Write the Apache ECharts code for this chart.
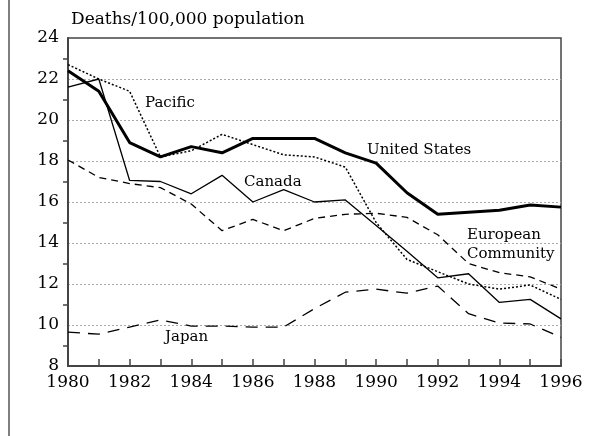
<!DOCTYPE html>
<html>
<head>
<meta charset="utf-8">
<script src="https://cdn.jsdelivr.net/npm/echarts@6/dist/echarts.min.js"></script>
<style>
  html, body { margin: 0; padding: 0; background: #fff; }
  #chart { width: 607px; height: 436px; }
</style>
</head>
<body>
<div id="chart"></div>
<script>
// years on the x axis
const years = [1980, 1981, 1982, 1983, 1984, 1985, 1986, 1987, 1988, 1989, 1990, 1991, 1992, 1993, 1994, 1995, 1996]

// deaths per 100,000 population
const unitedStates = [22.4, 21.4, 18.9, 18.2, 18.7, 18.4, 19.1, 19.1, 19.1, 18.4, 17.9, 16.45, 15.4, 15.5, 15.6, 15.85, 15.75]
const pacific = [22.7, 22.0, 21.4, 18.2, 18.5, 19.3, 18.8, 18.3, 18.2, 17.7, 15.0, 13.2, 12.6, 12.0, 11.75, 11.95, 11.25]
const canada = [21.6, 22.0, 17.05, 17.0, 16.4, 17.3, 16.0, 16.6, 16.0, 16.1, 14.85, 13.6, 12.3, 12.5, 11.1, 11.25, 10.3]
const europeanCommunity = [18.05, 17.2, 16.9, 16.7, 15.9, 14.6, 15.15, 14.6, 15.2, 15.4, 15.45, 15.25, 14.4, 13.0, 12.55, 12.35, 11.75]
const japan = [9.65, 9.55, 9.9, 10.25, 9.95, 9.95, 9.9, 9.9, 10.8, 11.6, 11.75, 11.55, 11.9, 10.55, 10.1, 10.05, 9.4]

const FONT = 'DejaVu Serif'
const AXIS_COLOR = '#444'

function pairs(values) {
  return years.map((y, i) => [y, values[i]])
}

function initSeries(name, values, width, type) {
  return {
    name,
    type: 'line',
    data: pairs(values),
    showSymbol: false,
    symbol: 'none',
    silent: true,
    lineStyle: {
      color: '#000',
      width,
      type
    }
  }
}

const chart = echarts.init(document.getElementById('chart'))

const option = {
  animation: false,
  title: {
    text: 'Deaths/100,000 population',
    left: 66,
    top: 6,
    textStyle: {
      fontFamily: FONT,
      fontSize: 17,
      fontWeight: 'normal',
      color: '#000'
    }
  },
  grid: {
    left: 68,
    right: 46,
    top: 38,
    bottom: 70,
    show: true,
    borderColor: AXIS_COLOR,
    borderWidth: 1.5
  },
  xAxis: {
    type: 'value',
    min: 1980,
    max: 1996,
    interval: 2,
    axisLine: { lineStyle: { color: AXIS_COLOR, width: 2 } },
    axisTick: { inside: true, length: 7, lineStyle: { color: AXIS_COLOR, width: 1.5 } },
    minorTick: { show: true, splitNumber: 2, length: 7, lineStyle: { color: AXIS_COLOR, width: 1.5 } },
    splitLine: { show: false },
    axisLabel: {
      fontFamily: FONT,
      fontSize: 17,
      color: '#000',
      margin: 8,
      formatter: v => String(v)
    }
  },
  yAxis: {
    type: 'value',
    min: 8,
    max: 24,
    interval: 2,
    axisLine: { show: true, lineStyle: { color: AXIS_COLOR, width: 2 } },
    axisTick: { show: false },
    minorTick: { show: true, splitNumber: 2, length: 5, lineStyle: { color: AXIS_COLOR, width: 1.5 } },
    splitLine: {
      show: true,
      showMinLine: false,
      showMaxLine: false,
      lineStyle: { color: '#aaa', type: [2, 2], width: 1 }
    },
    axisLabel: {
      fontFamily: FONT,
      fontSize: 17,
      color: '#000',
      margin: 9
    }
  },
  series: [
    initSeries('Japan', japan, 1.3, [12, 8]),
    initSeries('European Community', europeanCommunity, 1.3, [7, 5]),
    initSeries('Canada', canada, 1.3, 'solid'),
    initSeries('Pacific', pacific, 1.5, [2, 2]),
    initSeries('United States', unitedStates, 3, 'solid')
  ],
  graphic: [
    // left border of the figure
    { type: 'line', shape: { x1: 9, y1: 0, x2: 9, y2: 436 }, style: { stroke: '#555', lineWidth: 1.5 } },
    { type: 'text', left: 145, top: 96, style: { text: 'Pacific', font: '15px "DejaVu Serif"', fill: '#000' } },
    { type: 'text', left: 367, top: 143, style: { text: 'United States', font: '15px "DejaVu Serif"', fill: '#000' } },
    { type: 'text', left: 244, top: 175, style: { text: 'Canada', font: '15px "DejaVu Serif"', fill: '#000' } },
    { type: 'text', left: 467, top: 226, style: { text: 'European\nCommunity', font: '15px "DejaVu Serif"', fill: '#000', lineHeight: 19 } },
    { type: 'text', left: 165, top: 330, style: { text: 'Japan', font: '15px "DejaVu Serif"', fill: '#000' } }
  ]
}

chart.setOption(option)
</script>
</body>
</html>
